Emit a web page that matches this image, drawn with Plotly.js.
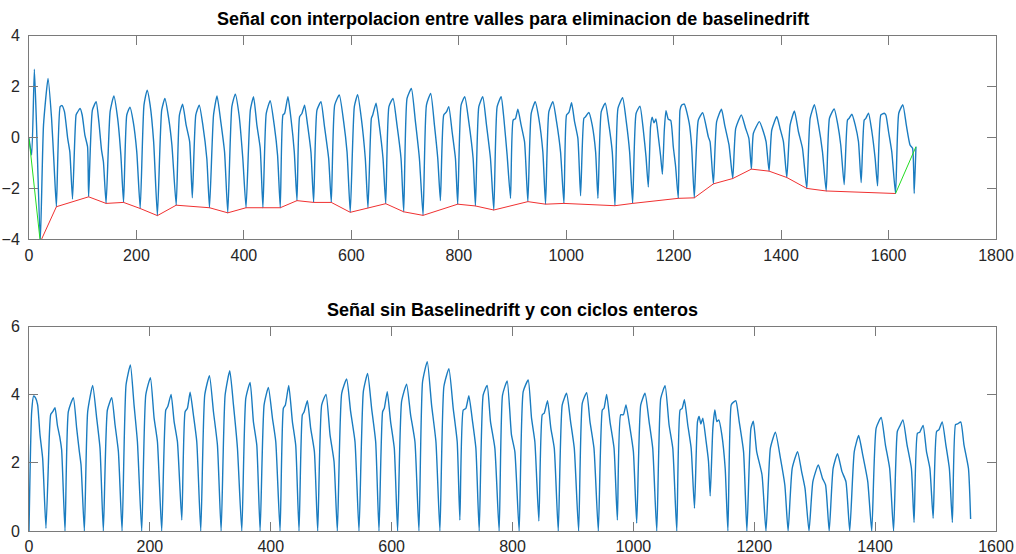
<!DOCTYPE html>
<html>
<head>
<meta charset="utf-8">
<script src="https://cdn.plot.ly/plotly-3.0.1.min.js"></script>
<style>
  html, body { margin: 0; padding: 0; background: #fff; }
  #chart { width: 1016px; height: 554px; }
</style>
</head>
<body>
<div id="chart"></div>
<script>
// Raw pulse signal (samples, amplitude)
const rawX = [0,5,10,14,21,27,35.5,42,47,51,58,61.5,66,72,76,81,87.6,90,95,99,104,109,111,118,125,130,135,138.5,143.5,151,158,165,171,176,182,188,194,200.6,207,214,220,225.5,232,239,247,253,260,266,274,280,286,292.5,299,304,310.5,317,323.6,331,336,343.5,350,357,364,370,377.6,384,391,398,404,412,418,424.2,430.4,435.4,441.6,449,456.5,462.7,467.7,472.7,475.8,482,487.6,493.8,498.8,503.7,508,513,518.6,524.8,529.8,536,543.5,549.7,557.8,562.7,569,577.6,585.7,592,598,605.6,611.8,618.6,626,631,637.3,639.8,646,652,659,664,670,677.6,685,692.5,697.5,703.7,711.8,719.3,726.7,733.5,739.8,747.8,754.7,760.9,765.8,772,777,781.4,787.6,793.8,798,804.3,811.2,818.6,826.7,831,837.3,844.7,851.6,859,865.2,871.4,878.9,883.9,890,896.3,901.2,905.6,910,916.1,922.4,928.6,934.8,942.2,949,956.5,961.5,967.7,975.2,982,989.4,995.7,1000.6,1005,1010,1015.5,1021.7,1026.7,1032.9,1036,1042.2,1048.4,1054.7,1059,1065.2,1072.7,1079.5,1085.7,1090.7,1096.3,1105,1111.8,1118,1123.6,1130,1137.3,1143.5,1148.5,1152.8,1157,1160,1163.4,1167,1171.5,1175.8,1179,1182.6,1185.7,1190,1194.5,1199.3,1203.7,1208.6,1211.8,1215,1219.8,1229,1233.5,1238.4,1245.8,1254,1264.5,1267.7,1274,1280,1289,1295,1303,1310,1315.5,1326,1334,1340,1344.7,1348.4,1359.6,1367,1372,1377.6,1382.6,1392,1398,1404.3,1410.6,1416.8,1424.8,1432.3,1439.8,1447.8,1454,1462,1469.6,1477,1483.9,1490,1498.8,1505.6,1511,1517.4,1523.6,1526.7,1531.7,1537.9,1544,1549,1554.7,1557.8,1562.7,1569,1575,1579.5,1585.7,1592,1595,1600,1606,1613,1619,1626.7,1633,1640,1644.7,1647.8,1651];
const rawY = [-0.04,-0.7,2.68,0.48,-4.12,0.48,2.32,0.75,-1.22,-2.73,1.21,1.25,1.01,-0.04,-0.57,-2.43,0.88,0.98,1.14,0.88,0.09,-0.37,-2.34,1.07,1.4,0.62,-0.5,-0.96,-2.6,1.01,1.63,0.75,-0.7,-2.56,0.88,1.19,0.62,-0.57,-2.8,1.27,1.86,1.27,-0.17,-3.08,1.07,1.53,0.75,-0.3,-2.67,0.88,1.3,0.48,-0.17,-2.38,0.88,1.27,0.48,-0.83,-2.77,0.88,1.63,0.62,-0.57,-2.97,1.21,1.7,0.88,-0.83,-2.77,1.07,1.6,0.48,-0.43,-2.77,0.94,1.44,0.48,-0.7,-2.77,0.88,0.94,1.6,0.75,-0.57,-2.49,0.81,0.94,1.27,0.48,-0.57,-2.56,1.07,1.4,0.48,-0.83,-2.56,1.27,1.67,0.62,-0.57,-2.95,1.21,1.68,0.75,-0.83,-2.78,0.75,0.88,1.34,0.48,-0.83,-2.61,1.21,1.53,0.48,-0.83,-2.93,1.53,1.92,0.62,-0.83,-3.07,1.27,1.73,0.48,-0.83,-2.49,0.88,1.0,1.21,0.22,-0.83,-2.63,1.27,1.6,0.62,-0.83,-2.7,1.21,1.6,0.48,-0.83,-2.86,1.21,1.6,0.75,-0.7,-2.4,0.68,0.74,1.11,0.48,-0.17,-2.53,0.94,1.4,0.75,-0.57,-2.63,1.01,1.4,0.62,-0.57,-2.6,0.88,0.98,1.36,0.62,-0.04,-2.3,0.75,0.81,0.98,0.48,-0.57,-2.4,1.01,1.34,0.48,-0.57,-2.69,1.14,1.56,0.62,-0.57,-2.6,0.94,1.23,0.29,-0.76,-1.95,0.42,0.79,0.57,0.72,0.02,-0.76,-1.45,0.29,1.05,0.71,0.67,-0.37,-1.16,-2.4,1.07,1.27,1.31,0.55,-0.37,-2.38,0.67,0.97,0.02,-0.17,-1.83,0.62,1.11,0.48,-0.3,-1.62,0.35,0.88,0.35,-0.04,-1.25,0.16,0.62,0.22,-0.17,-1.33,0.29,0.82,0.35,-0.17,-1.58,0.49,1.04,0.22,-0.43,-2.01,0.75,1.28,0.49,-0.57,-2.11,0.75,1.12,0.49,-0.3,-1.86,0.68,0.75,0.91,0.49,-0.17,-1.78,0.68,0.75,0.95,0.22,-0.83,-1.91,0.88,0.95,0.88,0.22,-0.57,-2.21,0.95,1.28,0.49,-0.3,-0.43,-2.21,-0.37];

// Valleys joined to form the baseline estimate
const valleyX = [21,51,111,143.5,176,207,239,274,336,370,404,435.4,467.7,498.8,529.8,562.7,598,631,664,697.5,733.5,798,831,865.2,928.6,961.5,995.7,1090.7,1123.6,1208.6,1238.4,1274,1310,1344.7,1377.6,1410.6,1447.8,1483.9,1613];
const valleyY = [-4.12,-2.73,-2.34,-2.6,-2.56,-2.8,-3.08,-2.67,-2.77,-2.97,-2.77,-2.77,-2.77,-2.49,-2.56,-2.56,-2.95,-2.78,-2.61,-2.93,-3.07,-2.63,-2.7,-2.86,-2.53,-2.63,-2.6,-2.69,-2.6,-2.4,-2.38,-1.83,-1.62,-1.25,-1.33,-1.58,-2.01,-2.11,-2.21];

// Segments from the signal ends to the outer valleys
const edgeX = [0, 21, null, 1613, 1651];
const edgeY = [-0.04, -4.12, null, -2.21, -0.37];

// Signal after baseline removal, trimmed to whole cycles
const cleanX = [0,4.4,7.7,11,14.3,18.2,22.6,28.1,33.7,35.9,39.2,43,46.9,51.3,54,59.6,65.1,73.4,78.9,83.3,86.1,91.6,97.1,105.4,112,117.5,123,129.7,136.9,142.4,147.9,154,160.6,167.8,173.8,179.4,186.5,193.2,200.9,207,212.5,219.6,226.3,229.6,235.1,240.1,245.6,252.8,258.3,262.1,266.6,272,277.6,284.2,290.8,298.6,305.2,311.8,317.9,324.5,332.2,338.3,344.9,352.1,358.7,365.9,371.3,376.9,382.4,389,396.1,402.8,408.3,415.4,420.9,424.2,429.8,435.8,441.3,446.8,452.3,455.1,460.6,466.1,472.2,477.7,484.3,491.5,498.1,504.7,510.2,517.4,525.6,532.2,539.4,546,553.2,560.3,566.9,573.6,579.1,585.1,587.9,592.8,598.3,604.4,609.9,616.5,624.8,631.4,638.6,645.2,651.2,659,666.1,673.3,679.9,686.5,694.8,701.9,708.5,712.9,718.5,722.9,727.8,733.9,739.4,744.9,751.5,758.1,763.6,770.8,777.9,783.5,791.2,798.3,803.9,811,817.7,826,831.5,837,843.6,849.2,852.5,858,863.5,869.1,875.7,882.3,889.5,896.1,902.2,909.4,915.5,922.7,928.2,934.8,942,948.6,951.4,955.8,961.3,968,973.5,979,983.4,987.8,994.5,1000,1005.5,1012.2,1019.3,1026,1032,1038.7,1045.3,1052.5,1059.1,1065.2,1071.8,1077.3,1080.7,1084.5,1090,1095.6,1101.1,1106.1,1108.8,1111.6,1114.9,1120.4,1124.3,1127.1,1131.5,1134.8,1138.1,1141.4,1146.4,1151.9,1156.4,1161.9,1165.7,1169.6,1175.1,1182.3,1187.8,1194.5,1198.5,1204,1212.8,1219.4,1226.7,1235,1243.3,1250.6,1256,1262.8,1271.7,1278.3,1284,1290.6,1297,1306,1312.8,1318,1324,1330.5,1337.8,1345,1351.7,1358,1365.5,1372.8,1379.4,1387.8,1394.4,1401.7,1410,1417,1424,1430.5,1436.7,1440.6,1446,1452.8,1460,1464.4,1470,1473.9,1479.4,1485,1490.6,1496,1501.7,1505.6,1511,1517,1522.8,1527.8,1533,1536.4,1541.7,1547,1554.4,1558];
const cleanY = [0,3.5,3.96,3.9,3.7,2.82,2.13,0.08,2.82,3.42,3.5,3.62,3.11,2.72,2.38,0,3.5,3.91,3.01,2.33,1.94,0,3.5,4.27,3.31,2.43,0,3.55,3.91,3.11,2.33,0,4.29,4.87,3.7,2.62,0,3.99,4.5,3.31,2.62,0,3.55,3.65,4.01,3.21,2.62,0.32,3.5,3.6,4.07,3.41,2.62,0,3.99,4.56,3.5,2.52,0,3.99,4.7,3.7,2.43,0,3.89,4.36,3.21,2.52,0,3.7,4.21,3.31,2.62,0,3.6,3.7,4.27,3.21,2.52,0,3.41,3.49,3.82,3.01,2.33,0,3.7,4.01,2.82,2.04,0,4.04,4.46,3.5,2.62,0,4.09,4.62,3.6,2.62,0,3.5,3.6,4.09,3.21,2.43,0,3.8,4.31,3.41,2.62,0,4.38,4.97,3.7,2.62,0,4.24,4.76,3.6,2.62,0.32,3.55,3.6,3.97,3.21,2.43,0,3.99,4.27,3.21,2.43,0,3.99,4.4,2.82,2.33,0,4.09,4.43,3.31,2.62,0.29,3.41,3.46,3.82,3.01,2.43,0,3.7,4.04,3.21,2.43,0,3.75,4.06,3.21,2.43,0,3.55,3.6,4.01,3.21,2.43,0.32,3.41,3.41,3.7,3.01,2.33,0.23,3.7,4.04,3.21,2.43,0,3.89,4.26,3.11,2.43,0,3.55,3.6,3.85,3.11,2.43,0.67,3.21,3.36,3.14,3.31,2.62,2.04,1.03,3.01,3.55,3.21,3.26,2.82,1.84,0,3.7,3.78,3.82,3.21,2.33,0,3.01,3.22,2.33,1.65,0,2.43,2.9,2.14,1.35,0,1.84,2.33,1.75,1.25,0,1.45,1.94,1.55,1.35,0,1.84,2.27,1.75,1.45,0,2.33,2.8,2.24,1.45,0,3.02,3.33,2.53,1.84,0,2.92,3.07,3.26,2.53,1.84,0.25,2.87,2.9,3.1,2.33,1.84,0.37,2.92,2.97,3.2,2.53,1.84,0.25,3.12,3.14,3.2,2.53,1.84,0.35];

// Axis ticks
const rawTicksX = [0,200,400,600,800,1000,1200,1400,1600,1800];
const rawTicksY = [-4,-2,0,2,4];
const cleanTicksX = [0,200,400,600,800,1000,1200,1400,1600];
const cleanTicksY = [0,2,4,6];

const titleTop = 'Señal con interpolacion entre valles para eliminacion de baselinedrift';
const titleBottom = 'Señal sin Baselinedrift y con ciclos enteros';

const FONT = 'Liberation Sans, Arial, Helvetica, sans-serif';
const BLUE = '#1a7cc0';

const traces = [
  { x: rawX, y: rawY, xaxis: 'x', yaxis: 'y', type: 'scatter', mode: 'lines',
    line: { color: BLUE, width: 1.4, shape: 'spline', smoothing: 0.5 }, hoverinfo: 'skip' },
  { x: valleyX, y: valleyY, xaxis: 'x', yaxis: 'y', type: 'scatter', mode: 'lines',
    line: { color: '#f03030', width: 1 }, hoverinfo: 'skip' },
  { x: edgeX, y: edgeY, xaxis: 'x', yaxis: 'y', type: 'scatter', mode: 'lines',
    line: { color: '#22dd22', width: 1 }, connectgaps: false, hoverinfo: 'skip' },
  { x: cleanX, y: cleanY, xaxis: 'x2', yaxis: 'y2', type: 'scatter', mode: 'lines',
    line: { color: BLUE, width: 1.4, shape: 'spline', smoothing: 0.5 }, hoverinfo: 'skip' }
];

function axis(extra) {
  return Object.assign({
    showline: true, linecolor: '#7a7a7a', linewidth: 1, mirror: 'allticks',
    ticks: 'inside', ticklen: 9, tickcolor: '#7a7a7a', tickwidth: 1,
    showgrid: false, zeroline: false, fixedrange: true,
    tickfont: { family: FONT, size: 16, color: '#262626' }
  }, extra);
}

const xDom = [29 / 1016, 996 / 1016];

const layout = {
  width: 1016, height: 554,
  margin: { l: 0, r: 0, t: 0, b: 0 },
  paper_bgcolor: '#ffffff', plot_bgcolor: '#ffffff',
  showlegend: false,
  font: { family: FONT, size: 16, color: '#262626' },
  xaxis: axis({ domain: xDom, range: [0, 1800], tickvals: rawTicksX, anchor: 'y', ticklabelstandoff: 2 }),
  yaxis: axis({ domain: [1 - 239 / 554, 1 - 35.7 / 554], range: [-4, 4], tickvals: rawTicksY, anchor: 'x', ticklabelstandoff: 5 }),
  xaxis2: axis({ domain: xDom, range: [0, 1600], tickvals: cleanTicksX, anchor: 'y2', ticklabelstandoff: 1 }),
  yaxis2: axis({ domain: [1 - 531 / 554, 1 - 326.5 / 554], range: [0, 6], tickvals: cleanTicksY, anchor: 'x2', ticklabelstandoff: 5 }),
  annotations: [
    { text: '<b>' + titleTop + '</b>', xref: 'paper', yref: 'paper',
      x: 512.5 / 1016, y: 1 - 19 / 554, xanchor: 'center', yanchor: 'middle',
      showarrow: false, font: { family: FONT, size: 18, color: '#000000' } },
    { text: '<b>' + titleBottom + '</b>', xref: 'paper', yref: 'paper',
      x: 512.5 / 1016, y: 1 - 310 / 554, xanchor: 'center', yanchor: 'middle',
      showarrow: false, font: { family: FONT, size: 18, color: '#000000' } }
  ]
};

Plotly.newPlot('chart', traces, layout, { staticPlot: true, displayModeBar: false });
</script>
</body>
</html>
